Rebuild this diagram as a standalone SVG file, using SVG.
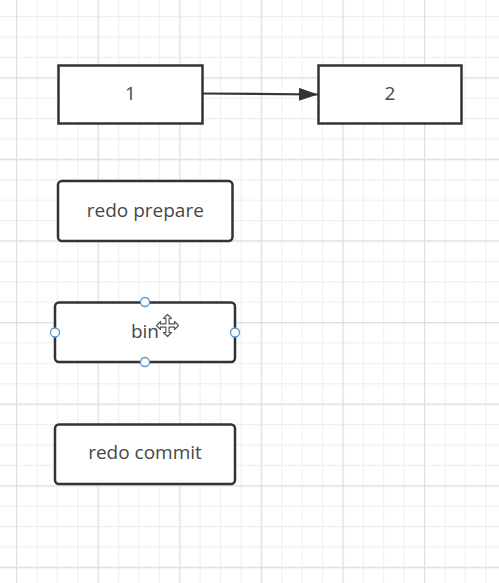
<svg xmlns="http://www.w3.org/2000/svg" width="499" height="583" viewBox="0 0 499 583">
  <defs>
    <pattern id="minor" patternUnits="userSpaceOnUse" x="16" y="16" width="20.4" height="20.4">
      <path d="M0.5 0 V20.4 M0 0.5 H20.4" stroke="#efefef" stroke-width="1.2" fill="none"/>
    </pattern>
    <pattern id="major" patternUnits="userSpaceOnUse" x="16" y="77.2" width="81.6" height="81.6">
      <path d="M0.5 0 V81.6 M0 0.5 H81.6" stroke="#e0e0e0" stroke-width="1.4" fill="none"/>
    </pattern>
    <marker id="arrow" markerUnits="userSpaceOnUse" markerWidth="22" markerHeight="14" refX="19" refY="6.5" orient="auto">
      <path d="M0 0 L19 6.5 L0 13 Z" fill="#333333"/>
    </marker>
  </defs>
  <style>
    .box { fill: #ffffff; stroke: #333333; stroke-width: 2.5; }
    .lbl { font-family: "Open Sans", "Noto Sans", "Liberation Sans", sans-serif; font-size: 19px; fill: #474747; text-anchor: middle; }
    .handle { fill: #ffffff; stroke: #5b95cf; stroke-width: 1.3; }
    .edge { stroke: #333333; stroke-width: 2.2; fill: none; }
  </style>
  <rect x="0" y="0" width="499" height="583" fill="#ffffff"/>
  <rect x="0" y="0" width="499" height="583" fill="url(#minor)"/>
  <rect x="0" y="0" width="499" height="583" fill="url(#major)"/>

  <g id="connectors">
    <path class="edge" d="M203 93.5 L318 94.5" marker-end="url(#arrow)"/>
  </g>

  <g id="node-1">
    <rect class="box" x="58.5" y="65.5" width="144" height="58"/>
    <text class="lbl" x="130.5" y="100">1</text>
  </g>
  <g id="node-2">
    <rect class="box" x="318.5" y="65.5" width="143" height="58"/>
    <text class="lbl" x="390" y="100">2</text>
  </g>
  <g id="node-redo-prepare">
    <rect class="box" x="58" y="181" width="174.5" height="60" rx="4" ry="4"/>
    <text class="lbl" x="145.3" y="217">redo prepare</text>
  </g>
  <g id="node-bin">
    <rect class="box" x="55" y="302.5" width="180" height="59.5" rx="4" ry="4"/>
    <text class="lbl" x="145" y="338">bin</text>
    <circle class="handle" cx="145" cy="302" r="4.5"/>
    <circle class="handle" cx="145" cy="362" r="4.5"/>
    <circle class="handle" cx="55" cy="332.5" r="4.5"/>
    <circle class="handle" cx="235" cy="332.5" r="4.5"/>
    <polygon transform="translate(167.5 325.5)" fill="#ffffff" stroke="#555555" stroke-width="1.2" stroke-linejoin="round" points="0,-11 4,-7 1.6,-7 1.6,-1.6 7,-1.6 7,-4 11,0 7,4 7,1.6 1.6,1.6 1.6,7 4,7 0,11 -4,7 -1.6,7 -1.6,1.6 -7,1.6 -7,4 -11,0 -7,-4 -7,-1.6 -1.6,-1.6 -1.6,-7 -4,-7"/>
  </g>
  <g id="node-redo-commit">
    <rect class="box" x="55" y="424.5" width="180" height="59.5" rx="4" ry="4"/>
    <text class="lbl" x="145" y="459">redo commit</text>
  </g>
</svg>
